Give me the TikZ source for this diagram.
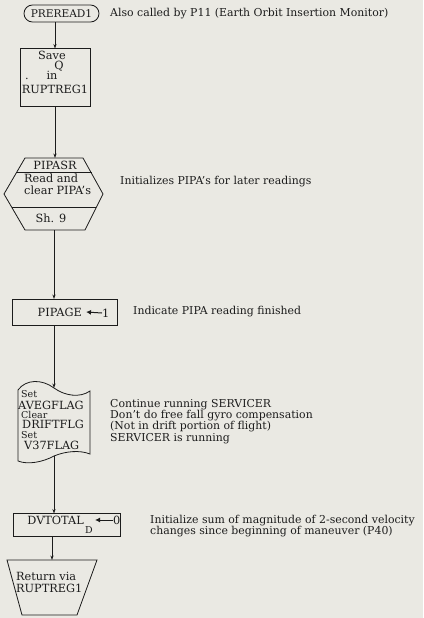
\documentclass[tikz,border=0pt]{standalone}
\usepackage{fontspec}
\setmainfont{DejaVu Serif}
\usetikzlibrary{arrows.meta,calc}
\definecolor{paper}{RGB}{234,233,227}
\definecolor{ink}{RGB}{28,28,28}

\tikzset{
  lbl/.style={font=\fontsize{11.3}{12.5}\selectfont, inner sep=0pt, text=ink},
  small/.style={font=\fontsize{9.5}{10}\selectfont, inner sep=0pt, text=ink},
  note/.style={font=\fontsize{10.9}{11.2}\selectfont, inner sep=0pt, text=ink, anchor=west, align=left},
  frame/.style={draw=ink, line width=0.8pt},
  ghost/.style={inner sep=0pt, outer sep=0pt},
  flow/.style={draw=ink, line width=0.8pt, -{Stealth[length=4.5pt,width=3.2pt]}},
  plain/.style={draw=ink, line width=0.8pt},
  setarrow/.style={draw=ink, line width=1pt, -{Latex[length=5pt,width=5pt]}},
}

\begin{document}
\begin{tikzpicture}[x=1pt,y=-1pt]
  % sheet
  \fill[paper] (0,0) rectangle (423,618);

  % entry point
  \node[frame, lbl, font=\fontsize{10.6}{12}\selectfont, rounded corners=8.5pt,
        minimum width=75pt, minimum height=17pt, inner xsep=2pt] (pre) at (61.5,13.5) {PREREAD1};
  \node[note] (preNote) at (110,13.5) {Also called by P11 (Earth Orbit Insertion Monitor)};

  % save Q in RUPTREG1
  \node[frame, ghost, minimum width=70pt, minimum height=58pt] (save) at (55,77.5) {};
  \node[lbl] (saveA) at (52,55.5) {Save};
  \node[lbl] (saveB) at (59,66.5) {Q};
  \node[lbl] (saveC) at (52,75.5) {in};
  \node[lbl] (saveD) at (27,79) {.};
  \node[lbl] (saveE) at (55,89) {RUPTREG1};

  % PIPASR subroutine (hexagon)
  \node[ghost, minimum width=58pt, minimum height=72pt] (hex) at (54,194) {};
  \draw[frame] (hex.north west) -- (hex.north east) -- ($(hex.east)+(20,0)$)
               -- ($(hex.south east)+(2,0)$) -- (hex.south west) -- ($(hex.west)+(-21,0)$) -- cycle;
  \draw[plain] (16.4,172) -- (91.8,172);
  \draw[plain] (12.3,207) -- (95.5,207);
  \node[lbl] (hexA) at (55,165) {PIPASR};
  \node[lbl, anchor=west, align=left] (hexB) at (24,184.5) {Read and\\clear PIPA's};
  \node[lbl] (hexC) at (51,218.5) {Sh. 9};
  \node[note] (hexNote) at (120,182) {Initializes PIPA's for later readings};

  % PIPAGE <- 1
  \node[frame, ghost, minimum width=105pt, minimum height=26pt] (pipage) at (64.5,312) {};
  \node[lbl, anchor=east] (pgName) at (82,312) {PIPAGE};
  \node[lbl, anchor=west] (pgVal) at (102,313) {1};
  \coordinate (pgTip) at (86,312);
  \draw[setarrow] (pgVal.west) -- (pgTip);
  \node[note] (pgNote) at (133,312) {Indicate PIPA reading finished};

  % flag settings (punched tape)
  \node[ghost, minimum width=72pt, minimum height=68pt] (tape) at (54,422) {};
  \draw[frame] (18,390) .. controls (26,379) and (42,379) .. (54,388)
               .. controls (65,396) and (80,398) .. (90,391)
               -- (90,454)
               .. controls (80,450) and (66,451) .. (54,456)
               .. controls (43,462) and (28,465) .. (18,461) -- cycle;
  \node[small, anchor=base west] (tA) at (21,397.5) {Set};
  \node[lbl, anchor=base west] (tB) at (18,409.5) {AVEGFLAG};
  \node[small, anchor=base west] (tC) at (21,418) {Clear};
  \node[lbl, anchor=base west] (tD) at (22,428.5) {DRIFTFLG};
  \node[small, anchor=base west] (tE) at (21,438.5) {Set};
  \node[lbl, anchor=base west] (tF) at (24,449.5) {V37FLAG};
  \node[note] (tNote) at (110,421.5) {Continue running SERVICER\\Don't do free fall gyro compensation\\(Not in drift portion of flight)\\SERVICER is running};

  % DVTOTAL <- 0
  \node[frame, ghost, minimum width=107pt, minimum height=23pt] (dv) at (66.5,525) {};
  \node[lbl, anchor=east] (dvName) at (84,520) {DVTOTAL};
  \node[lbl, anchor=west] (dvVal) at (113,520) {0};
  \coordinate (dvTip) at (95,520);
  \draw[setarrow] (dvVal.west) -- (dvTip);
  \node[small] (dvSub) at (89,530.5) {D};
  \node[note] (dvNote) at (150,526) {Initialize sum of magnitude of 2-second velocity\\changes since beginning of maneuver (P40)};

  % exit
  \node[ghost, minimum width=90pt, minimum height=55pt] (ret) at (52,587.5) {};
  \draw[frame] (ret.north west) -- (ret.north east) -- (77,615) -- (22,615) -- cycle;
  \node[lbl, anchor=west, align=left] (retTxt) at (16,582.5) {Return via\\RUPTREG1};

  % control flow
  \draw[flow] (pre.south -| save.north) -- (save.north);
  \draw[flow] (save.south) -- (save.south |- hex.north);
  \draw[flow] (hex.south) -- (hex.south |- pipage.north);
  \draw[flow] (pipage.south -| tape.north) -- (tape.north);
  \draw[flow] (tape.south) -- (tape.south |- dv.north);
  \draw[flow] (dv.south -| ret.north) -- (ret.north);
\end{tikzpicture}
\end{document}
